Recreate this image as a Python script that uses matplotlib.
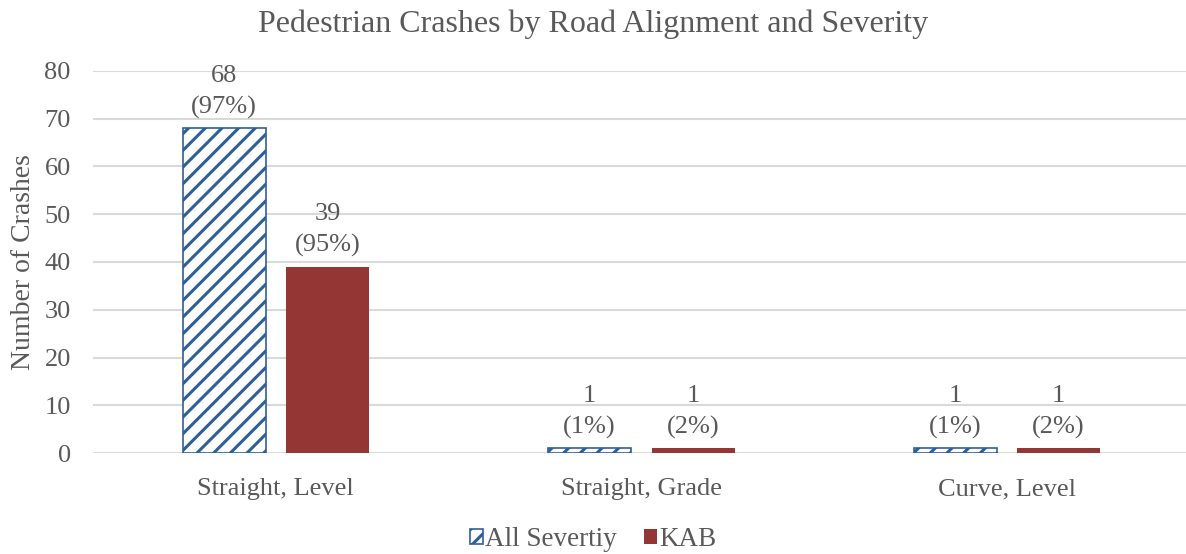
import numpy as np
import matplotlib.pyplot as plt

plt.rcParams['font.family'] = ['Liberation Serif', 'DejaVu Serif']
plt.rcParams['hatch.linewidth'] = 2.2

# data
categories = ["Straight, Level", "Straight, Grade", "Curve, Level"]
all_severity = [68, 1, 1]
all_severity_pct = [97, 1, 1]
kab = [39, 1, 1]
kab_pct = [95, 2, 2]

BLUE = "#2F5F98"
RED = "#943634"
GREY = "#595959"

fig = plt.figure(figsize=(11.86, 5.54), dpi=100)
ax = fig.add_axes([93 / 1186, 1 - 453 / 554, 1 - 93 / 1186, (453 - 71) / 554])

x = np.arange(len(categories))
width = 0.227
offset = 0.1415

b1 = ax.bar(x - offset, all_severity, width, facecolor="white", edgecolor=BLUE,
            hatch="//", linewidth=1.2, label="All Severtiy", zorder=3)
b2 = ax.bar(x + offset, kab, width, color=RED, label="KAB", zorder=3)

for bars, vals, pcts in [(b1, all_severity, all_severity_pct), (b2, kab, kab_pct)]:
    for rect, v, p in zip(bars, vals, pcts):
        ax.annotate(f"{v}\n({p}%)", (rect.get_x() + rect.get_width() / 2, rect.get_height()),
                    xytext=(0, 7), textcoords="offset points", ha="center", va="bottom",
                    fontsize=19, color=GREY, linespacing=1.5)

ax.set_xlim(-0.5, 2.49)
ax.set_ylim(0, 80)
ax.set_yticks(range(0, 81, 10))
ax.set_xticks(x)
ax.set_xticklabels(categories)
ax.tick_params(axis="both", length=0, labelsize=19, colors=GREY)
ax.tick_params(axis="x", pad=18)
ax.tick_params(axis="y", pad=16)
ax.grid(axis="y", color="#D9D9D9", linewidth=1.5, zorder=0)
for s in ax.spines.values():
    s.set_visible(False)

ax.set_ylabel("Number of Crashes", fontsize=20, color=GREY, labelpad=6)
fig.suptitle("Pedestrian Crashes by Road Alignment and Severity", fontsize=23,
             color=GREY, y=0.983)

fig.legend(handles=[b1, b2], loc="lower center", bbox_to_anchor=(0.5, -0.04), ncol=2,
           frameon=False, fontsize=19.5, labelcolor=GREY, handlelength=0.48,
           handleheight=0.48, handletextpad=0.08, columnspacing=1.0)

fig.savefig("out.png", dpi=100)
